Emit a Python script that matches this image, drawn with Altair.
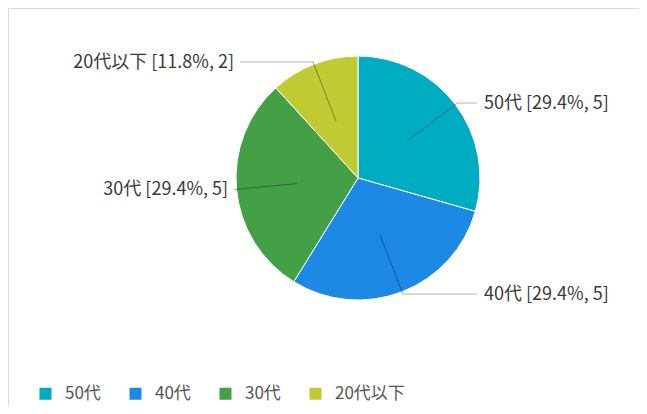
import altair as alt
import pandas as pd

categories = ["50代", "40代", "30代", "20代以下"]
counts = [5, 5, 5, 2]
colors = ["#00ACC1", "#1E88E5", "#43A047", "#C0CA33"]

df = pd.DataFrame({"cat": categories, "count": counts, "idx": list(range(len(categories)))})

CX, CY, R = 350, 170, 122
FONT = "Noto Sans CJK JP"

base = alt.Chart(df)

color = alt.Color(
    "cat:N",
    scale=alt.Scale(domain=categories, range=colors),
    sort=categories,
    legend=alt.Legend(
        title=None,
        orient="none",
        legendX=29,
        legendY=377,
        direction="horizontal",
        symbolType="square",
        symbolSize=144,
        symbolStrokeWidth=0,
        labelFontSize=17,
        labelFont=FONT,
        labelColor="#555555",
        labelOffset=11,
        columnPadding=26,
    ),
)

pie = base.mark_arc(stroke="white", strokeWidth=1).encode(
    theta=alt.Theta("count:Q", stack=True),
    order=alt.Order("idx:Q"),
    color=color,
    x=alt.value(CX),
    y=alt.value(CY),
    radius=alt.value(R),
)

geo = base.transform_joinaggregate(total="sum(count)").transform_window(
    cum="sum(count)", sort=[alt.SortField("idx")], frame=[None, 0]
).transform_calculate(
    mid=f"(datum.cum - datum.count/2) / datum.total * 2 * PI",
).transform_calculate(
    s="sin(datum.mid)",
    c="cos(datum.mid)",
).transform_calculate(
    x0=f"{CX} + {R*0.5} * datum.s",
    y0=f"{CY} - {R*0.5} * datum.c",
    x1=f"{CX} + {R*1.02} * datum.s",
    y1=f"{CY} - {R*1.02} * datum.c",
    right="datum.s > 0",
    label="datum.cat + ' [' + format(datum.count / datum.total * 100, '.1f') + '%, ' + datum.count + ']'",
).transform_calculate(
    x2=f"datum.right ? {CX + 119} : min(datum.x1, {CX - 118})",
)

radial = geo.mark_rule(color="black", opacity=0.35, strokeWidth=1).encode(
    x=alt.X("x0:Q", scale=None, axis=None),
    y=alt.Y("y0:Q", scale=None, axis=None),
    x2="x1:Q",
    y2="y1:Q",
)

horiz = geo.mark_rule(color="black", opacity=0.3, strokeWidth=1).encode(
    x=alt.X("x1:Q", scale=None, axis=None),
    y=alt.Y("y1:Q", scale=None, axis=None),
    x2="x2:Q",
    y2="y1:Q",
)

text_right = geo.transform_filter("datum.right").mark_text(
    align="left", baseline="middle", dx=7, dy=1, fontSize=18, font=FONT, color="#3a3a3a"
).encode(
    x=alt.X("x2:Q", scale=None, axis=None),
    y=alt.Y("y1:Q", scale=None, axis=None),
    text="label:N",
)

text_left = geo.transform_filter("!datum.right").mark_text(
    align="right", baseline="middle", dx=-6, dy=1, fontSize=18, font=FONT, color="#3a3a3a"
).encode(
    x=alt.X("x2:Q", scale=None, axis=None),
    y=alt.Y("y1:Q", scale=None, axis=None),
    text="label:N",
)

chart = alt.layer(pie, radial, horiz, text_right, text_left).properties(
    width=631,
    height=398,
    autosize=alt.AutoSizeParams(type="none"),
    padding=0,
).configure_view(stroke=None).configure(background="white")

chart.save("out.html", embed_options={"renderer": "svg", "actions": False})
